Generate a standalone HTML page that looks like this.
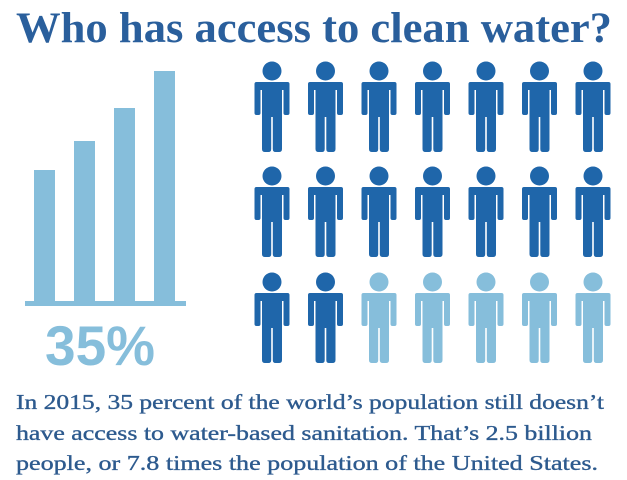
<!DOCTYPE html>
<html><head><meta charset="utf-8"><style>html,body{margin:0;padding:0;background:#fff}svg{display:block}</style></head>
<body>
<svg width="627" height="480" viewBox="0 0 627 480" xmlns="http://www.w3.org/2000/svg">
<defs>
<g id="p">
<circle cx="0" cy="0" r="9.5"/>
<path d="M-15.5 11 H15.5 Q17.5 11 17.5 13 V42 Q17.5 44 15.5 44 H13.5 Q11.5 44 11.5 42 V19 H10 V78 Q10 81 7 81 H3.5 Q0.8 81 0.8 78 V46 H-0.8 V78 Q-0.8 81 -3.5 81 H-7 Q-10 81 -10 78 V19 H-11.5 V42 Q-11.5 44 -13.5 44 H-15.5 Q-17.5 44 -17.5 42 V13 Q-17.5 11 -15.5 11 Z"/>
</g>
</defs>
<text x="16" y="42" font-family="Liberation Serif, serif" font-weight="bold" font-size="43" fill="#2a5f9c" textLength="596" lengthAdjust="spacingAndGlyphs">Who has access to clean water?</text>
<g fill="#86bedb">
<rect x="34" y="170" width="21" height="133"/>
<rect x="74" y="141" width="21" height="162"/>
<rect x="114" y="108" width="21" height="195"/>
<rect x="154" y="71" width="21" height="232"/>
<rect x="25" y="301" width="161" height="5"/>
</g>
<text x="100" y="365" text-anchor="middle" font-family="Liberation Sans, sans-serif" font-weight="bold" font-size="56" fill="#86bedb" textLength="110" lengthAdjust="spacingAndGlyphs">35%</text>
<g fill="#1f66aa">
<use href="#p" x="272" y="71"/><use href="#p" x="325.5" y="71"/><use href="#p" x="379" y="71"/><use href="#p" x="432.5" y="71"/><use href="#p" x="486" y="71"/><use href="#p" x="539.5" y="71"/><use href="#p" x="593" y="71"/>
<use href="#p" x="272" y="176"/><use href="#p" x="325.5" y="176"/><use href="#p" x="379" y="176"/><use href="#p" x="432.5" y="176"/><use href="#p" x="486" y="176"/><use href="#p" x="539.5" y="176"/><use href="#p" x="593" y="176"/>
<use href="#p" x="272" y="282"/><use href="#p" x="325.5" y="282"/>
</g>
<g fill="#86bedb">
<use href="#p" x="379" y="282"/><use href="#p" x="432.5" y="282"/><use href="#p" x="486" y="282"/><use href="#p" x="539.5" y="282"/><use href="#p" x="593" y="282"/>
</g>
<g font-family="Liberation Serif, serif" font-size="21" fill="#2d5a8e" stroke="#2d5a8e" stroke-width="0.35">
<text x="16" y="409" textLength="588" lengthAdjust="spacingAndGlyphs">In 2015, 35 percent of  the world’s population still doesn’t</text>
<text x="16" y="440" textLength="576" lengthAdjust="spacingAndGlyphs">have access to water-based sanitation. That’s 2.5 billion</text>
<text x="16" y="470" textLength="582" lengthAdjust="spacingAndGlyphs">people, or 7.8 times the population of  the United States.</text>
</g>
</svg>
</body></html>
